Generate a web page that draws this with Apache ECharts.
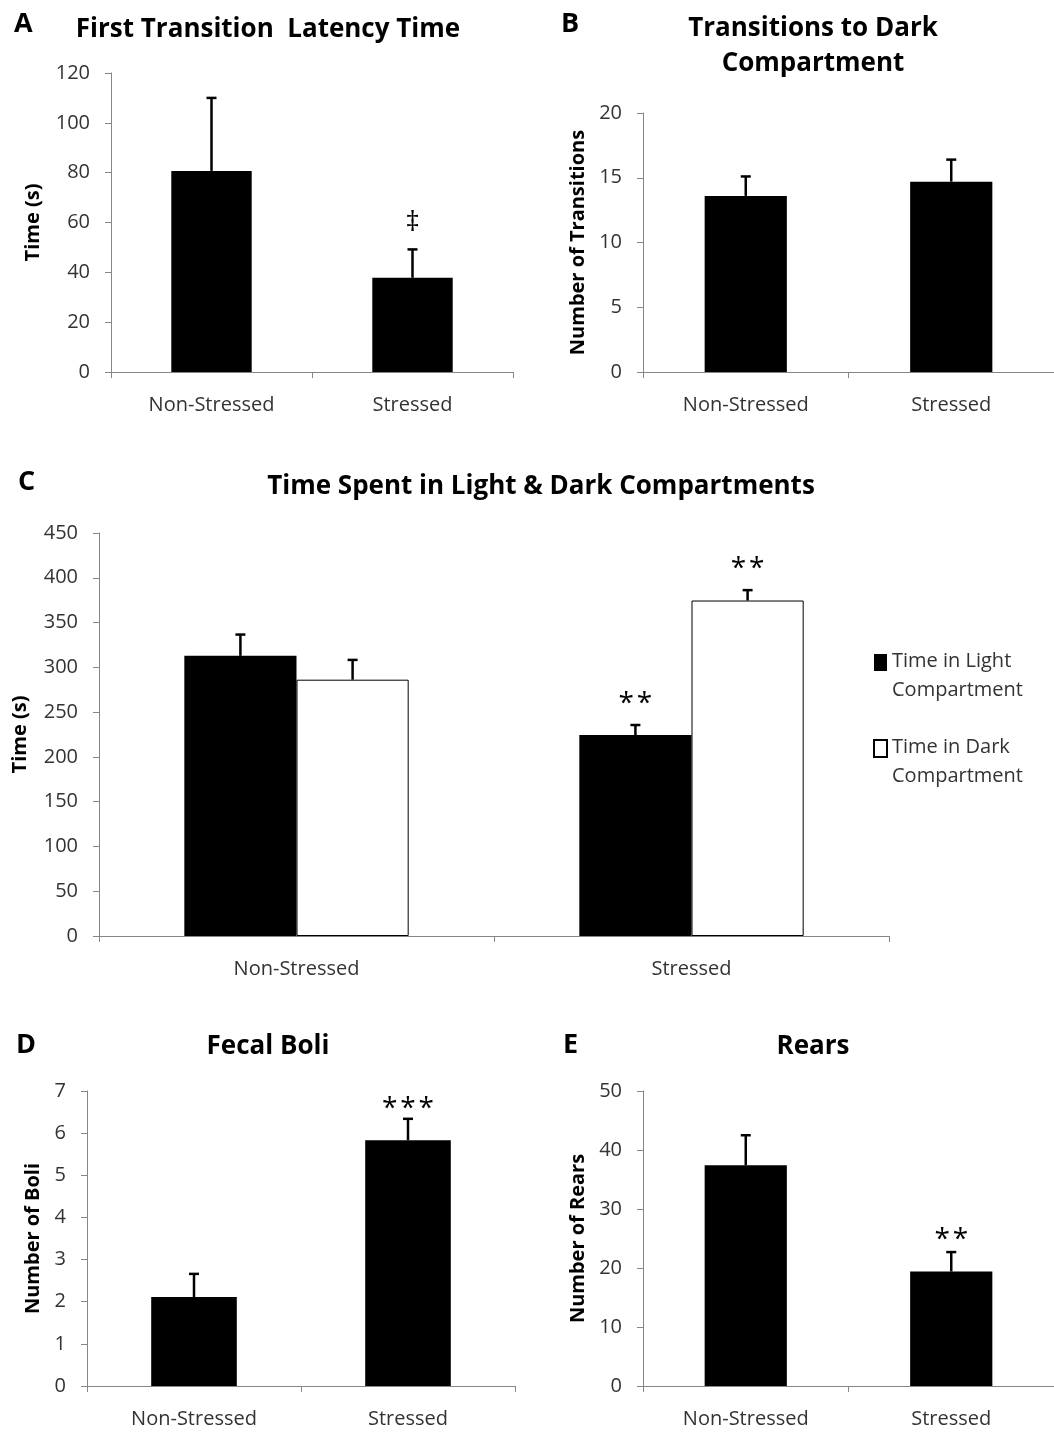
<!DOCTYPE html>
<html>
<head>
<meta charset="utf-8">
<script src="https://cdn.jsdelivr.net/npm/echarts@6/dist/echarts.min.js"></script>
<style>
  html, body { margin: 0; padding: 0; background: #fff; }
  #chart { width: 1054px; height: 1432px; }
</style>
</head>
<body>
<div id="chart"></div>
<script>
// groups on every x axis
const groups = ['Non-Stressed', 'Stressed'];

// A - first transition latency (s)
const latencyMean = [80.7, 37.8];
const latencyErr = [29.3, 11.4];
const latencyMarks = ['', '‡'];

// B - transitions to dark compartment
const transitionsMean = [13.6, 14.7];
const transitionsErr = [1.5, 1.7];
const transitionsMarks = ['', ''];

// C - time in light / dark compartments (s)
const lightMean = [312.8, 224.4];
const lightErr = [23.8, 11.2];
const lightMarks = ['', '*\u200A*'];
const darkMean = [286.2, 374.6];
const darkErr = [22.1, 11.6];
const darkMarks = ['', '*\u200A*'];

// D - fecal boli
const boliMean = [2.11, 5.83];
const boliErr = [0.55, 0.51];
const boliMarks = ['', '*\u200A*\u200A*'];

// E - rears
const rearsMean = [37.4, 19.4];
const rearsErr = [5.1, 3.3];
const rearsMarks = ['', '*\u200A*'];

const FONT = '"Open Sans", "DejaVu Sans", sans-serif';
const AXIS_GRAY = '#868686';

let chart = echarts.init(document.getElementById('chart'));

function xAxisFor(gi) {
  return {
    type: 'category', gridIndex: gi, data: groups,
    axisLine: { lineStyle: { color: AXIS_GRAY } },
    axisTick: { show: true, length: 6, lineStyle: { color: AXIS_GRAY } },
    axisLabel: { margin: 23, color: '#333', fontFamily: FONT, fontSize: 20 }
  };
}

function yAxisFor(gi, max, interval, name, nameGap) {
  return {
    type: 'value', gridIndex: gi, min: 0, max: max, interval: interval,
    name: name, nameLocation: 'middle', nameRotate: 90, nameGap: nameGap,
    nameTextStyle: { fontFamily: FONT, fontWeight: 'bold', fontSize: 20, color: '#000' },
    axisLine: { show: true, lineStyle: { color: AXIS_GRAY } },
    axisTick: { show: true, length: 6, lineStyle: { color: AXIS_GRAY } },
    splitLine: { show: false },
    axisLabel: { margin: 21, color: '#333', fontFamily: FONT, fontSize: 20 }
  };
}

// upper whisker + cap, with significance mark above it
function errorBars(gi, means, errs, marks, shift, markGap) {
  return {
    type: 'custom', xAxisIndex: gi, yAxisIndex: gi, z: 10, silent: true,
    data: means.map(function (m, i) { return [i, m, m + errs[i]]; }),
    encode: { x: 0, y: [1, 2] },
    renderItem: function (params, api) {
      let band = api.size([1, 0])[0];
      let base = api.coord([api.value(0), api.value(1)]);
      let top = api.coord([api.value(0), api.value(2)]);
      let x = base[0] + band * shift;
      let kids = [
        { type: 'line', shape: { x1: x, y1: base[1], x2: x, y2: top[1] },
          style: { stroke: '#000', lineWidth: 2.5 } },
        { type: 'line', shape: { x1: x - 5, y1: top[1], x2: x + 5, y2: top[1] },
          style: { stroke: '#000', lineWidth: 2.5 } }
      ];
      let mark = marks[params.dataIndex];
      if (mark) {
        kids.push({ type: 'text', style: {
          text: mark, x: x, y: top[1] - markGap, align: 'center', verticalAlign: 'middle',
          font: '28px ' + FONT, fill: '#000' } });
      }
      return { type: 'group', children: kids };
    }
  };
}

function bars(gi, means, name, width, style) {
  return {
    type: 'bar', name: name, xAxisIndex: gi, yAxisIndex: gi, data: means,
    barWidth: width, barGap: '0%', itemStyle: style, silent: true
  };
}

const black = { color: '#000' };
const white = { color: '#fff', borderColor: '#000', borderWidth: 1 };
const lightName = 'Time in Light\nCompartment';
const darkName = 'Time in Dark\nCompartment';

function panelTitle(text, cx, top, size) {
  return { text: text, left: cx, top: top, textAlign: 'center',
    textStyle: { fontFamily: FONT, fontWeight: 'bold', fontSize: size, color: '#000', lineHeight: 35 } };
}
function letter(text, left, top) {
  return { text: text, left: left, top: top,
    textStyle: { fontFamily: FONT, fontWeight: 'bold', fontSize: 27, color: '#000' } };
}

chart.setOption({
  animation: false,
  backgroundColor: '#fff',
  title: [
    letter('A', 9, 6), letter('B', 556, 6), letter('C', 13, 464), letter('D', 11, 1027), letter('E', 558, 1027),
    panelTitle('First Transition  Latency Time', 263, 7, 26),
    panelTitle('Transitions to Dark\nCompartment', 808, 6, 26),
    panelTitle('Time Spent in Light & Dark Compartments', 536, 464, 26),
    panelTitle('Fecal Boli', 263, 1024, 26),
    panelTitle('Rears', 808, 1024, 26)
  ],
  legend: {
    left: 873, top: 647, orient: 'vertical', itemGap: 28, padding: 0,
    itemWidth: 13, itemHeight: 44, icon: 'path://M0,0H13V17H0Z M13,44',
    textStyle: { fontFamily: FONT, fontSize: 20, lineHeight: 29, color: '#333' },
    data: [lightName, darkName]
  },
  grid: [
    { left: 111, top: 73, width: 402, height: 299 },
    { left: 643, top: 113, width: 411, height: 259 },
    { left: 99, top: 533, width: 790, height: 403 },
    { left: 87, top: 1091, width: 428, height: 295 },
    { left: 643, top: 1091, width: 411, height: 295 }
  ],
  xAxis: [xAxisFor(0), xAxisFor(1), xAxisFor(2), xAxisFor(3), xAxisFor(4)],
  yAxis: [
    yAxisFor(0, 120, 20, 'Time (s)', 68),
    yAxisFor(1, 20, 5, 'Number of Transitions', 55),
    yAxisFor(2, 450, 50, 'Time (s)', 69),
    yAxisFor(3, 7, 1, 'Number of Boli', 44),
    yAxisFor(4, 50, 10, 'Number of Rears', 55)
  ],
  series: [
    bars(0, latencyMean, 'latency', '40%', black),
    errorBars(0, latencyMean, latencyErr, latencyMarks, 0, 26),
    bars(1, transitionsMean, 'transitions', '40%', black),
    errorBars(1, transitionsMean, transitionsErr, transitionsMarks, 0, 20),
    bars(2, lightMean, lightName, '28.4%', black),
    bars(2, darkMean, darkName, '28.4%', white),
    errorBars(2, lightMean, lightErr, lightMarks, -0.142, 21),
    errorBars(2, darkMean, darkErr, darkMarks, 0.142, 21),
    bars(3, boliMean, 'boli', '40%', black),
    errorBars(3, boliMean, boliErr, boliMarks, 0, 10),
    bars(4, rearsMean, 'rears', '40%', black),
    errorBars(4, rearsMean, rearsErr, rearsMarks, 0, 12)
  ]
});
</script>
</body>
</html>
